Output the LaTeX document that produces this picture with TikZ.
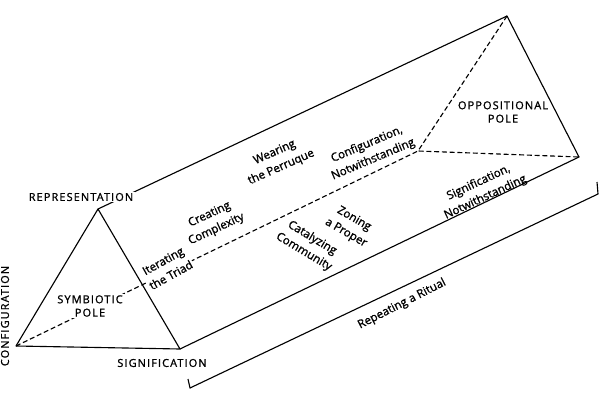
\documentclass[tikz,border=0pt]{standalone}
\usepackage{fontspec}
\setmainfont{Open Sans}[FakeBold=1.2, AutoFakeBold=1.2]
\newfontfamily\capsfont[LetterSpace=10, FakeBold=1.2]{Open Sans}

\begin{document}
\begin{tikzpicture}[x=0.025cm, y=-0.025cm,
    edge/.style={line width=0.8pt, line join=round},
    hidden/.style={edge, dash pattern=on 3.5pt off 2pt},
    caps/.style={font=\capsfont\fontsize{7.8}{9.5}\selectfont, align=center, inner sep=1pt},
    lab/.style={font=\bfseries\fontsize{8.2}{11.5}\selectfont, align=center, inner sep=1pt},
    mask/.style={fill=white}]
    \useasboundingbox (0,0) rectangle (600,414);

    % Corners of the prism
    \coordinate (fapex) at (98,209);
    \coordinate (fleft) at (16,346);
    \coordinate (fright) at (180,349);
    \coordinate (bapex) at (507,16);
    \coordinate (bleft) at (418,151);
    \coordinate (bright) at (579,157);

    % Hidden edges
    \draw[hidden] (fleft) -- (bleft);
    \draw[hidden] (bapex) -- (bleft) -- (bright);

    % Visible edges
    \draw[edge] (fapex) -- (bapex) -- (bright) -- (fright);
    \draw[edge] (fapex) -- (fleft) -- (fright) -- cycle;

    % Ritual bracket
    \coordinate (rit0) at (188,379);
    \coordinate (rit1) at (190,388);
    \coordinate (rit2) at (598,194);
    \coordinate (rit3) at (597,182);
    \draw[edge] (rit0) -- (rit1) -- (rit2) -- (rit3);

    % Poles
    \node[caps, mask] (symb) at (90,306) {SYMBIOTIC\\POLE};
    \node[caps] (oppo) at (503,112) {OPPOSITIONAL\\POLE};

    % Vertex labels
    \node[caps, mask] (repr) at (81,197) {REPRESENTATION};
    \node[caps] (signif) at (162,363) {SIGNIFICATION};
    \node[caps, rotate=90] (config) at (5,316) {CONFIGURATION};

    % Labels along the prism
    \node[lab, mask, rotate=29] (triad) at (167,268) {Iterating\\the Triad};
    \node[lab, rotate=25] (complex) at (213,222) {Creating\\Complexity};
    \node[lab, rotate=24] (perruque) at (278,160) {Wearing\\the Perruque};
    \node[lab, rotate=23] (confnot) at (370,152) {Configuration,\\Notwithstanding};
    \node[lab, rotate=-31] (catal) at (308,245) {Catalyzing\\Community};
    \node[lab, rotate=-30] (zoning) at (350,226) {Zoning\\a Proper};
    \node[lab, rotate=25] (signot) at (482,190) {Signification,\\Notwithstanding};
    \node[lab, rotate=27] (ritual) at (402,304) {Repeating a Ritual};
\end{tikzpicture}
\end{document}
